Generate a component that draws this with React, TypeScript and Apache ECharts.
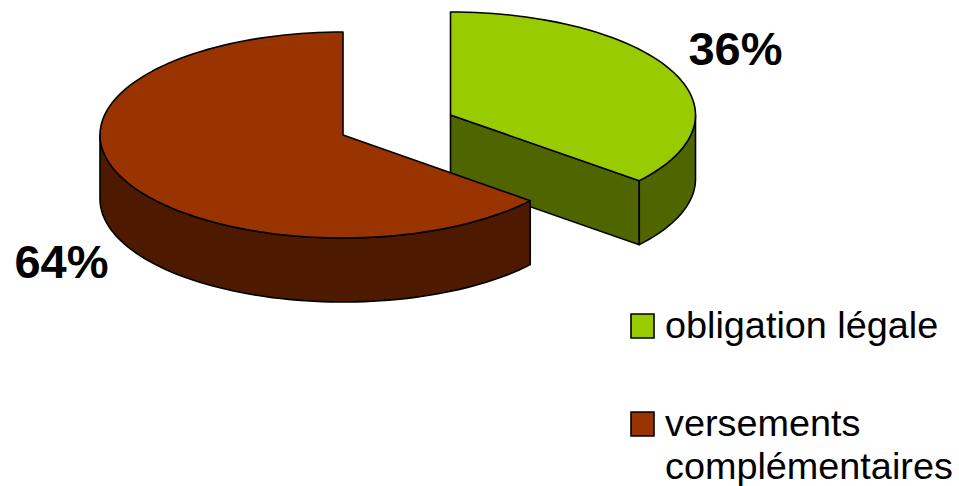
import React, { useEffect, useRef } from "react";
import * as echarts from "echarts";

const categories = ["obligation légale", "versements complémentaires"];
const legendLines = [["obligation légale"], ["versements", "complémentaires"]];
const shares = [36, 64];
const labels = ["36%", "64%"];
const topColors = ["#99CC00", "#993300"];
const sideColors = ["#4F6600", "#4D1A00"];

const geometry = [
  { cx: 450.5, cy: 115, rx: 245, ry: 103, lx: 735.5, ly: 48 },
  { cx: 343, cy: 135, rx: 243, ry: 103, lx: 61.5, ly: 261 },
];
const depth = 64;
const FONT = "'Liberation Sans', Arial, sans-serif";
const edge = { stroke: "#000", lineWidth: 1.6, lineJoin: "round" as const };

const arc = (g: any, from: number, to: number, dy = 0) => {
  const pts: number[][] = [];
  const n = Math.max(2, Math.ceil(Math.abs(to - from) / 2));
  for (let i = 0; i <= n; i++) {
    const t = ((from + ((to - from) * i) / n) * Math.PI) / 180;
    pts.push([g.cx + g.rx * Math.sin(t), g.cy - g.ry * Math.cos(t) + dy]);
  }
  return pts;
};

const renderSlice = (params: any, api: any) => {
  const i = params.dataIndex;
  const start = api.value(1) * 3.6;
  const end = start + api.value(0) * 3.6;
  const g = geometry[i];
  const children: any[] = [];
  const centerTop = [g.cx, g.cy];
  const centerBottom = [g.cx, g.cy + depth];
  const side = sideColors[i];
  const face = (deg: number) => {
    const p = arc(g, deg, deg)[0];
    children.push({
      type: "polygon",
      shape: { points: [centerTop, p, [p[0], p[1] + depth], centerBottom] },
      style: { fill: side, ...edge },
    });
  };
  if (start > 180 && start < 360) face(start);
  if (end < 180 && end > 0) face(end);
  const a = Math.max(start, 90);
  const b = Math.min(end, 270);
  if (b > a) {
    children.push({
      type: "polygon",
      shape: { points: [...arc(g, a, b), ...arc(g, b, a, depth)] },
      style: { fill: side, ...edge },
    });
  }
  children.push({
    type: "polygon",
    shape: { points: [centerTop, ...arc(g, start, end)] },
    style: { fill: topColors[i], ...edge },
  });
  children.push({
    type: "text",
    style: {
      x: g.lx,
      y: g.ly,
      text: labels[i],
      fill: "#000",
      font: `bold 47px ${FONT}`,
      align: "center",
      verticalAlign: "middle",
    },
    z2: 10,
  });
  return { type: "group", children };
};

const legendGraphic = () => {
  const tops = [314, 412];
  const out: any[] = [];
  categories.forEach((_, i) => {
    out.push({
      type: "rect",
      shape: { x: 631, y: tops[i], width: 23, height: 24 },
      style: { fill: topColors[i], stroke: "#000", lineWidth: 1.6 },
    });
    legendLines[i].forEach((line, j) => {
      out.push({
        type: "text",
        x: 665,
        y: tops[i] + 11 + j * 43,
        style: {
          text: line,
          fill: "#000",
          font: `37.8px ${FONT}`,
          textAlign: "left",
          textVerticalAlign: "middle",
        },
      });
    });
  });
  return out;
};

export default function App() {
  const ref = useRef<HTMLDivElement>(null);
  useEffect(() => {
    document.body.style.margin = "0";
    const chart = echarts.init(ref.current!, undefined, { renderer: "svg" });
    let cum = 0;
    const data = shares.map((v, i) => {
      const row = { name: categories[i], value: [v, cum] };
      cum += v;
      return row;
    });
    chart.setOption({
      animation: false,
      backgroundColor: "#fff",
      series: [
        {
          type: "custom",
          coordinateSystem: "none",
          renderItem: renderSlice,
          data,
        },
      ],
      graphic: legendGraphic(),
    });
    return () => chart.dispose();
  }, []);
  return <div ref={ref} style={{ width: 959, height: 486 }} />;
}
